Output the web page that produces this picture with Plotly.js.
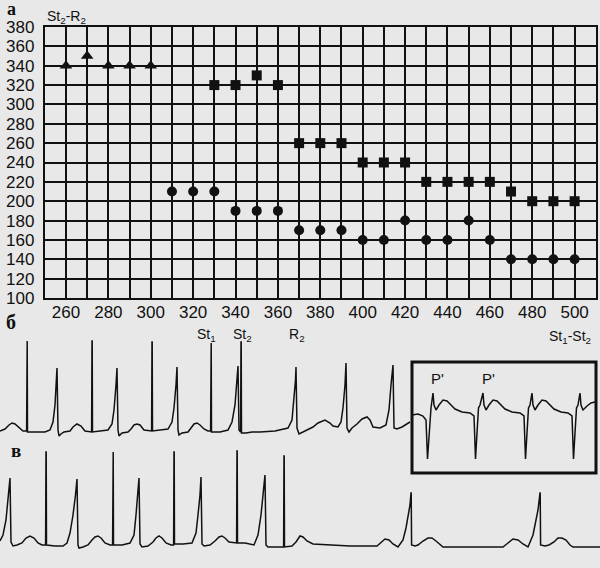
<!DOCTYPE html>
<html>
<head>
<meta charset="utf-8">
<script src="https://cdn.plot.ly/plotly-3.0.1.min.js"></script>
<style>html,body{margin:0;padding:0;background:#e8e8e8;}#chart{width:600px;height:568px;}</style>
</head>
<body>
<div id="chart"></div>
<script>
// ---- Panel а: St1-St2 (x) vs St2-R2 (y) ----
const triX = [260, 270, 280, 290, 300];
const triY = [340, 350, 340, 340, 340];
const sqX = [330, 340, 350, 360, 370, 380, 390, 400, 410, 420, 430, 440, 450, 460, 470, 480, 490, 500];
const sqY = [320, 320, 330, 320, 260, 260, 260, 240, 240, 240, 220, 220, 220, 220, 210, 200, 200, 200];
const circX = [310, 320, 330, 340, 350, 360, 370, 380, 390, 400, 410, 420, 430, 440, 450, 460, 470, 480, 490, 500];
const circY = [210, 210, 210, 190, 190, 190, 170, 170, 170, 160, 160, 180, 160, 160, 180, 160, 140, 140, 140, 140];

// ---- Panel б: ECG strip (time, amplitude) ----
const ecgBT = [0,5,9,12,15,19,23,26.6,27,27.2,27.5,35,45,50,53,55,56.5,57,58,59,61,64,70,73,77,81,85,90,91.6,92,92.2,92.5,100,108,112,114,116,117,118,119,122,128,131,134,137,140,144,150,151.6,152,152.2,152.5,160,168,172,174,176,177,178,179,182,188,191,194,197,200,204,208,210.6,211,211.2,211.5,220,228,232,235,237,238,239,240,240.6,241,241.2,241.5,246,252,260,275,288,292,294,295.5,296,297,299,303,313,318,325,330,333,338,341,343,345,346,347,349,352,357,362,367,370,373,380,386,389,391,393,394,397,402,407,410];
const ecgBV = [-1,1,5,7,6,2,-1,-1,89,89,-2,-2,-2,0,8,25,50,62,0,-6,-4,-2,-1,3,6,4,-1,-2,-2,89,89,-2,-1,0,6,20,45,62,0,-6,-3,-2,1,5,6,5,0,-1,-1,88,88,-1,0,1,8,22,45,63,0,-5,-3,-2,2,6,7,5,1,-1,-1,87,87,-2,-2,0,8,25,50,64,0,-2,-2,88,88,-3,-3,-2,-2,-1,2,10,30,50,63,2,-4,-2,3,7,10,7,4,3,8,22,45,67,2,-2,2,6,11,13,10,3,2,5,20,45,65,2,1,3,6,8];

// ---- Panel б inset (boxed) ----
const insetT = [412,418,423,426,427.5,429,431,433,434,436,439,443,447,451,455,462,470,474,475.5,477,478.5,480,483,484,486,489,493,497,501,505,512,520,524,525.5,527,528.5,530,532,533,535,538,542,546,550,554,561,568,572,573.5,575,576.5,578,580,581,583,587,591,595];
const insetV = [-2,-1,-3,-7,-46,-20,5,20,8,3,8,13,12,8,4,1,0,-3,-46,-20,5,8,20,8,3,8,13,12,8,4,1,0,-3,-46,-20,5,8,20,8,3,8,13,12,8,4,1,0,-3,-46,-20,5,8,20,8,3,7,10,11];

// ---- Panel в: ECG strip ----
const ecgVT = [0,3,6,8,10,11,13,17,22,26,30,34,38,42,45.6,46,46.2,46.5,55,63,67,70,73,75.5,77,78,79,83,88,92,95,98,101,105,110,112.6,113,113.2,113.5,122,130,134,136,138,139,140,142,148,153,156,159,162,166,171,173.6,174,174.2,174.5,183,192,196,198,200,201,202,204,210,215,219,222,225,229,234,236.6,237,237.2,237.5,245,254,258,261,263,265,266,268,275,283,283.6,284,284.2,284.5,292,296,300,303,307,313,330,350,377,381,385,389,393,398,403,406,408,410,411,411.2,411.6,415,418,423,428,432,436,440,443,460,480,503,508,513,518,523,528,533,536,538,540,540.2,540.6,545,549,554,558,562,566,570,573,590,600];
const ecgVV = [4,10,25,45,67,3,-1,0,2,7,9,7,2,0,0,93,93,0,-1,-1,2,12,30,50,66,0,-3,-2,0,5,8,9,7,2,0,0,93,93,0,0,2,10,30,50,67,1,-2,-1,3,7,9,7,2,0,0,93,93,1,1,2,12,30,50,68,1,-1,0,4,8,9,7,3,2,2,94,94,2,2,0,10,30,50,70,0,-2,-2,-2,-2,89,89,-2,-1,3,9,8,4,1,0,-1,-1,3,6,5,1,-2,5,17,28,40,52,52,0,-1,0,4,7,7,4,0,-2,-2,-2,-2,2,6,5,1,-2,10,25,35,52,52,0,-1,0,3,7,7,5,0,-2,-2,-2];

const INK = '#111111';
const BG = '#e8e8e8';
const FONT = 'Liberation Sans, Arial, sans-serif';
const px = x => x / 600;
const py = y => 1 - y / 568;

const ecgLine = {color: INK, width: 1.5};
const traces = [
  {x: triX, y: triY, type: 'scatter', mode: 'markers', marker: {symbol: 'triangle-up', size: 11, color: INK}, cliponaxis: false},
  {x: sqX, y: sqY, type: 'scatter', mode: 'markers', marker: {symbol: 'square', size: 10, color: INK}, cliponaxis: false},
  {x: circX, y: circY, type: 'scatter', mode: 'markers', marker: {symbol: 'circle', size: 10, color: INK}, cliponaxis: false},
  {x: ecgBT, y: ecgBV, xaxis: 'x3', yaxis: 'y3', type: 'scatter', mode: 'lines', line: ecgLine},
  {x: insetT, y: insetV, xaxis: 'x3', yaxis: 'y4', type: 'scatter', mode: 'lines', line: ecgLine},
  {x: ecgVT, y: ecgVV, xaxis: 'x3', yaxis: 'y5', type: 'scatter', mode: 'lines', line: ecgLine}
];

const gridStyle = {showgrid: true, gridcolor: INK, gridwidth: 2};
const hidden = {visible: false, showgrid: false, zeroline: false, fixedrange: true};

const layout = {
  width: 600, height: 568,
  margin: {l: 0, r: 0, t: 0, b: 0},
  paper_bgcolor: BG, plot_bgcolor: 'rgba(0,0,0,0)',
  showlegend: false,
  font: {family: FONT, color: INK},
  xaxis: Object.assign({
    domain: [px(44.8), px(595.8)], range: [250, 510],
    tickmode: 'linear', tick0: 260, dtick: 20,
    minor: {tick0: 250, dtick: 10, showgrid: true, gridcolor: INK, gridwidth: 2},
    showline: true, mirror: true, linecolor: INK, linewidth: 2,
    ticks: '', ticklabelstandoff: -2, zeroline: false, automargin: false,
    tickfont: {size: 17, family: FONT, color: INK}
  }, gridStyle),
  yaxis: Object.assign({
    domain: [py(298), py(27)], range: [100, 380],
    tickmode: 'linear', tick0: 100, dtick: 20,
    showline: true, mirror: true, linecolor: INK, linewidth: 2,
    ticks: '', ticklabelstandoff: 5, zeroline: false, automargin: false,
    tickfont: {size: 17, family: FONT, color: INK}
  }, gridStyle),
  xaxis3: Object.assign({domain: [0, 1], range: [0, 600], anchor: 'y3'}, hidden),
  yaxis3: Object.assign({domain: [py(470), py(330)], range: [-40, 100], anchor: 'x3'}, hidden),
  yaxis4: Object.assign({domain: [py(475), py(355)], range: [-62, 58], anchor: 'x3'}, hidden),
  yaxis5: Object.assign({domain: [py(568), py(440)], range: [-23, 105], anchor: 'x3'}, hidden),
  shapes: [
    {type: 'rect', xref: 'paper', yref: 'paper', x0: px(412), x1: px(596), y0: py(473), y1: py(362),
     line: {color: INK, width: 3}, fillcolor: 'rgba(0,0,0,0)'}
  ],
  annotations: []
};

function ann(text, x, y, size, opts) {
  layout.annotations.push(Object.assign({
    text: text, xref: 'paper', yref: 'paper', x: px(x), y: py(y),
    xanchor: 'center', yanchor: 'middle', showarrow: false,
    font: {size: size, family: FONT, color: INK}
  }, opts || {}));
}
const serifBold = {family: 'Liberation Serif, serif', color: INK, weight: 'bold'};
ann('а', 11, 9, 18, {font: Object.assign({size: 18}, serifBold)});
ann('б', 11, 322, 20, {font: Object.assign({size: 20}, serifBold)});
ann('в', 16, 450, 19, {font: Object.assign({size: 19}, serifBold)});
ann('St<sub>2</sub>-R<sub>2</sub>', 66, 17, 14);
ann('St<sub>1</sub>', 207, 335, 14);
ann('St<sub>2</sub>', 242, 335, 14);
ann('R<sub>2</sub>', 297, 335, 14);
ann('St<sub>1</sub>-St<sub>2</sub>', 570, 337, 14);
ann("P'", 437, 378, 15);
ann("P'", 488, 378, 15);

Plotly.newPlot('chart', traces, layout, {staticPlot: true, displayModeBar: false});
</script>
</body>
</html>
